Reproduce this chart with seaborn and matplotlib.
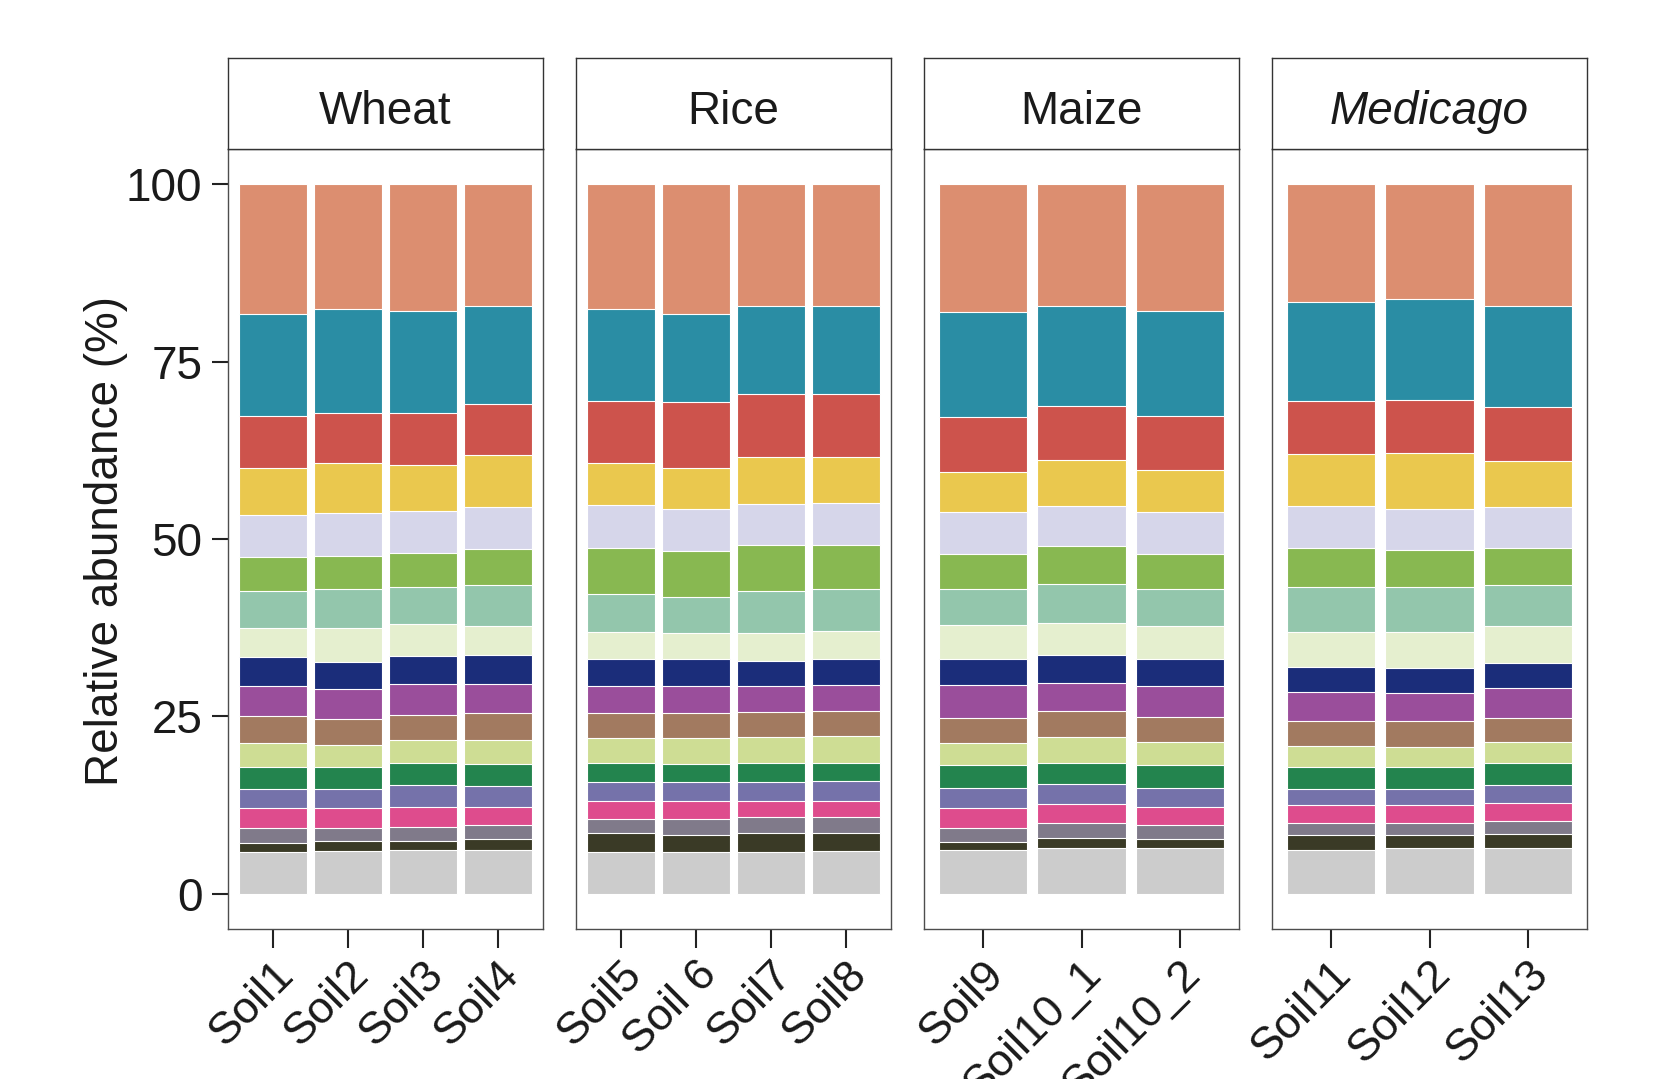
import numpy as np
import pandas as pd
import seaborn as sns
import matplotlib.pyplot as plt

sns.set_theme(style='white')
plt.rcParams['font.family'] = ['Liberation Sans', 'DejaVu Sans']
plt.rcParams['text.color'] = '#1a1a1a'

# Samples and their crop panel
crops = ['Wheat', 'Rice', 'Maize', 'Medicago']
samples = ['Soil1', 'Soil2', 'Soil3', 'Soil4',
           'Soil5', 'Soil 6', 'Soil7', 'Soil8',
           'Soil9', 'Soil10_1', 'Soil10_2',
           'Soil11', 'Soil12', 'Soil13']
sample_crop = ['Wheat'] * 4 + ['Rice'] * 4 + ['Maize'] * 3 + ['Medicago'] * 3

# Relative abundance (%) of each stacked layer, bottom to top, one value per sample
light_grey = [5.9, 6.0, 6.1, 6.1, 5.9, 5.9, 5.9, 6.0, 6.2, 6.4, 6.4, 6.2, 6.4, 6.4]
dark_olive = [1.2, 1.4, 1.3, 1.6, 2.6, 2.4, 2.7, 2.6, 1.1, 1.5, 1.3, 2.0, 1.9, 2.0]
grey = [2.1, 1.9, 2.0, 1.9, 2.0, 2.2, 2.2, 2.2, 2.0, 2.1, 2.0, 1.7, 1.6, 1.8]
pink = [2.8, 2.7, 2.8, 2.6, 2.5, 2.5, 2.2, 2.2, 2.7, 2.6, 2.5, 2.6, 2.6, 2.5]
blue_purple = [2.7, 2.7, 3.1, 2.9, 2.7, 2.7, 2.7, 2.9, 2.9, 2.9, 2.7, 2.3, 2.3, 2.6]
dark_green = [3.2, 3.2, 3.1, 3.1, 2.7, 2.6, 2.7, 2.5, 3.2, 2.9, 3.2, 3.1, 3.1, 3.1]
pale_lime = [3.4, 3.0, 3.2, 3.5, 3.6, 3.7, 3.7, 3.8, 3.2, 3.7, 3.3, 2.9, 2.8, 3.0]
brown = [3.7, 3.7, 3.6, 3.8, 3.5, 3.5, 3.5, 3.5, 3.5, 3.6, 3.5, 3.5, 3.6, 3.3]
purple = [4.3, 4.3, 4.4, 4.0, 3.8, 3.8, 3.6, 3.7, 4.6, 4.0, 4.4, 4.1, 4.0, 4.3]
navy = [4.1, 3.7, 3.9, 4.2, 3.8, 3.8, 3.6, 3.7, 3.7, 3.9, 3.8, 3.5, 3.5, 3.5]
cream = [4.1, 4.8, 4.5, 4.0, 3.8, 3.6, 4.0, 3.9, 4.8, 4.5, 4.7, 5.0, 5.1, 5.3]
mint = [5.2, 5.5, 5.2, 5.8, 5.4, 5.1, 5.9, 5.9, 5.0, 5.5, 5.1, 6.4, 6.4, 5.7]
green = [4.7, 4.7, 4.8, 5.1, 6.4, 6.5, 6.4, 6.3, 5.0, 5.4, 5.0, 5.5, 5.1, 5.3]
lavender = [6.0, 6.0, 6.0, 5.9, 6.1, 5.9, 5.8, 5.9, 5.9, 5.6, 5.9, 5.8, 5.8, 5.7]
yellow = [6.6, 7.1, 6.5, 7.4, 5.9, 5.8, 6.6, 6.4, 5.7, 6.5, 5.9, 7.4, 7.9, 6.5]
red = [7.4, 7.1, 7.2, 7.1, 8.8, 9.3, 9.0, 8.9, 7.7, 7.6, 7.6, 7.4, 7.5, 7.6]
teal = [14.4, 14.7, 14.4, 13.9, 13.0, 12.4, 12.4, 12.5, 14.8, 14.1, 14.8, 14.0, 14.2, 14.2]
salmon = [18.2, 17.5, 17.9, 17.1, 17.5, 18.3, 17.1, 17.1, 18.0, 17.2, 17.9, 16.6, 16.2, 17.2]

layers = [light_grey, dark_olive, grey, pink, blue_purple, dark_green, pale_lime,
          brown, purple, navy, cream, mint, green, lavender, yellow, red, teal, salmon]
palette = ['#CCCCCC', '#3A3A26', '#807A8A', '#DE4C8D', '#7572AA', '#23844E',
           '#CEDD94', '#A27A60', '#9A4E9B', '#1B2D7A', '#E5EFCF', '#93C6AC',
           '#88B851', '#D6D6EA', '#EAC84E', '#CD534C', '#2A8DA4', '#DC8E70']

df = pd.DataFrame({'sample': samples, 'crop': sample_crop})
cum = np.cumsum(np.array(layers), axis=0)
for k in range(len(layers)):
    df[f'cum{k}'] = cum[k]

W, H = 1657, 1079
fig = plt.figure(figsize=(W / 100, H / 100), dpi=100)

lefts = [228, 576, 924, 1272]
pw = 315
frame = '#4d4d4d'

for i, crop in enumerate(crops):
    sub = df[df['crop'] == crop]
    order = sub['sample'].tolist()
    ax = fig.add_axes([lefts[i] / W, 1 - 929 / H, pw / W, 780 / H])

    # draw tallest cumulative bar first, shorter ones on top -> stacked look
    for k in reversed(range(len(layers))):
        sns.barplot(data=sub, x='sample', y=f'cum{k}', order=order,
                    color=palette[k], saturation=1, width=0.9,
                    edgecolor='white', linewidth=0.8, errorbar=None, ax=ax)

    ax.set_xlim(-0.6, len(order) - 0.4)
    ax.set_ylim(-5, 105)
    ax.set_xlabel('')
    ax.set_ylabel('')
    for sp in ax.spines.values():
        sp.set_visible(True)
        sp.set_color(frame)
        sp.set_linewidth(1.0)

    ax.tick_params(axis='x', bottom=True, length=13.5, width=1.5,
                   color='#222222', pad=4, labelsize=32.5, labelcolor='#1a1a1a')
    plt.setp(ax.get_xticklabels(), rotation=45, ha='right', va='top',
             rotation_mode='anchor')

    if i == 0:
        ax.set_yticks([0, 25, 50, 75, 100])
        ax.tick_params(axis='y', left=True, length=11.5, width=1.5,
                       color='#222222', pad=7, labelsize=33, labelcolor='#1a1a1a')
    else:
        ax.tick_params(axis='y', left=False, labelleft=False)

    # facet strip
    sax = fig.add_axes([lefts[i] / W, 1 - 149 / H, pw / W, 91 / H])
    sax.set_xticks([])
    sax.set_yticks([])
    for sp in sax.spines.values():
        sp.set_visible(True)
        sp.set_color('#333333')
        sp.set_linewidth(1.0)
    sax.text(0.5, 0.41, crop, ha='center', va='center', fontsize=33,
             style='italic' if crop == 'Medicago' else 'normal',
             transform=sax.transAxes)

fig.text(106 / W, 1 - 541 / H, 'Relative abundance (%)', rotation=90,
         ha='center', va='center', fontsize=33)

fig.savefig('out.png', dpi=100)
